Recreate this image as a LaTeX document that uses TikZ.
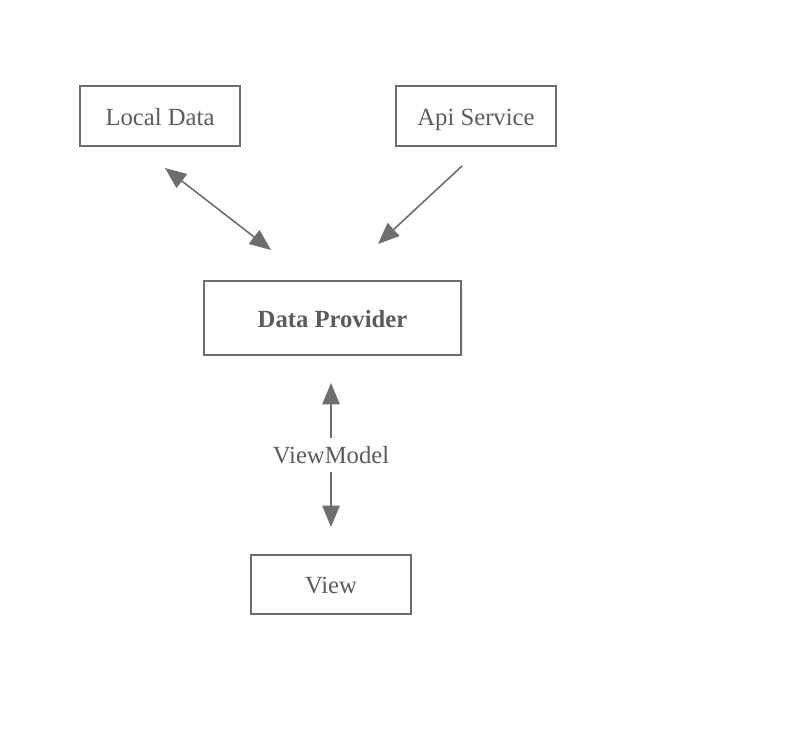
\documentclass[tikz,border=0pt]{standalone}
\usepackage{fontspec}
\setmainfont{Liberation Serif}
\usepackage{tikz}
\usetikzlibrary{arrows.meta, shadows}
\definecolor{boxgray}{HTML}{6E6E6E}
\definecolor{textgray}{HTML}{5C5C5C}
\tikzset{
  block/.style={draw=boxgray, line width=1.5pt, fill=white, text=textgray,
    minimum width=#1, minimum height=45pt, inner sep=0pt,
    text height=17pt, text depth=3.5pt,
    drop shadow={opacity=0.15, shadow xshift=1pt, shadow yshift=-1pt},
    font=\fontsize{18.5}{22}\selectfont},
  block/.default=120pt,
  link/.style={draw=boxgray, line width=1.2pt,
    -{Triangle[length=16pt,width=13pt]}},
  bilink/.style={link, {Triangle[length=16pt,width=13pt]}-{Triangle[length=16pt,width=13pt]}}
}
\begin{document}
\begin{tikzpicture}[x=0.75pt, y=-0.75pt]
  \useasboundingbox (0,0) rectangle (789,732);
  \node[block] (local) at (160,116) {Local Data};
  \node[block] (api) at (476,116) {Api Service};
  \node[block=193pt, minimum height=55pt, font=\fontsize{18.5}{22}\selectfont\bfseries] (prov) at (332.5,318) {Data Provider};
  \node[block, minimum height=44pt] (view) at (331,584.5) {View};
  % free ends of the connectors
  \coordinate (localend) at (165,168);
  \coordinate (provleft) at (271,250);
  \coordinate (apiend) at (462,166);
  \coordinate (provright) at (378,244);
  \coordinate (provbottom) at (331,383);
  \coordinate (viewtop) at (331,527);
  \draw[bilink] (localend) -- (provleft);
  \draw[link] (apiend) -- (provright);
  \draw[bilink] (provbottom) -- node[fill=white, text=textgray, inner xsep=2pt, inner ysep=6pt,
    font=\fontsize{18.5}{22}\selectfont] (vm) {ViewModel} (viewtop);
\end{tikzpicture}
\end{document}
